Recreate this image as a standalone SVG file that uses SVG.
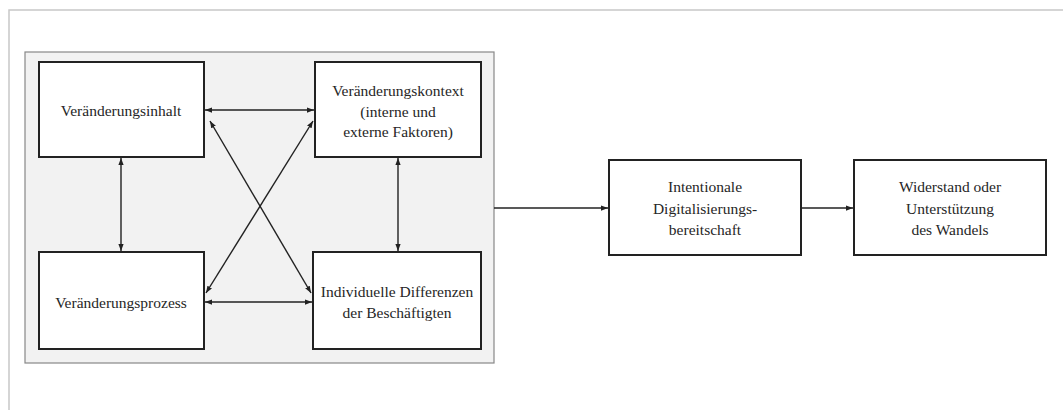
<svg xmlns="http://www.w3.org/2000/svg" width="1063" height="410" viewBox="0 0 1063 410">
<style>
.frame{fill:none;stroke:#c8c8c8;stroke-width:1.5}
.panel{fill:#f2f2f2;stroke:#888;stroke-width:1.2}
.box{fill:#fff;stroke:#222;stroke-width:2}
.t{font-family:"Liberation Serif","Times New Roman",serif;font-size:15.5px;fill:#262626;text-anchor:middle}
.c{stroke:#222;stroke-width:1.4;fill:none}
</style>
<defs>
<marker id="ah" viewBox="0 0 8 6" refX="8" refY="3" markerWidth="7" markerHeight="5.5" markerUnits="userSpaceOnUse" orient="auto-start-reverse">
<path d="M0,0 L8,3 L0,6 Z" fill="#222"/>
</marker>
</defs>
<path class="frame" d="M9,410 V10 H1063"/>
<rect class="panel" x="25" y="52" width="469" height="311"/>
<g id="connectors">
<line class="c" x1="205" y1="110" x2="314" y2="110" marker-start="url(#ah)" marker-end="url(#ah)"/>
<line class="c" x1="205" y1="302" x2="312" y2="302" marker-start="url(#ah)" marker-end="url(#ah)"/>
<line class="c" x1="121" y1="158" x2="121" y2="251" marker-start="url(#ah)" marker-end="url(#ah)"/>
<line class="c" x1="398" y1="158" x2="398" y2="251" marker-start="url(#ah)" marker-end="url(#ah)"/>
<line class="c" x1="210" y1="121" x2="311" y2="293" marker-start="url(#ah)" marker-end="url(#ah)"/>
<line class="c" x1="313" y1="121" x2="206" y2="293" marker-start="url(#ah)" marker-end="url(#ah)"/>
<line class="c" x1="494" y1="208" x2="608" y2="208" marker-end="url(#ah)"/>
<line class="c" x1="801" y1="208" x2="853" y2="208" marker-end="url(#ah)"/>
</g>
<g id="inhalt">
<rect class="box" x="39" y="62" width="165" height="95"/>
<text class="t" x="121" y="116">Veränderungsinhalt</text>
</g>
<g id="kontext">
<rect class="box" x="315" y="62" width="166" height="95"/>
<text class="t" x="398" y="96">Veränderungskontext</text>
<text class="t" x="398" y="117">(interne und</text>
<text class="t" x="398" y="137">externe Faktoren)</text>
</g>
<g id="prozess">
<rect class="box" x="39" y="252" width="165" height="97"/>
<text class="t" x="121" y="308">Veränderungsprozess</text>
</g>
<g id="differenzen">
<rect class="box" x="313" y="252" width="168" height="97"/>
<text class="t" x="397" y="297">Individuelle Differenzen</text>
<text class="t" x="397" y="318">der Beschäftigten</text>
</g>
<g id="bereitschaft">
<rect class="box" x="609" y="160" width="192" height="95"/>
<text class="t" x="705" y="192">Intentionale</text>
<text class="t" x="705" y="214">Digitalisierungs-</text>
<text class="t" x="705" y="235">bereitschaft</text>
</g>
<g id="widerstand">
<rect class="box" x="854" y="160" width="192" height="95"/>
<text class="t" x="950" y="192">Widerstand oder</text>
<text class="t" x="950" y="214">Unterstützung</text>
<text class="t" x="950" y="235">des Wandels</text>
</g>
</svg>
